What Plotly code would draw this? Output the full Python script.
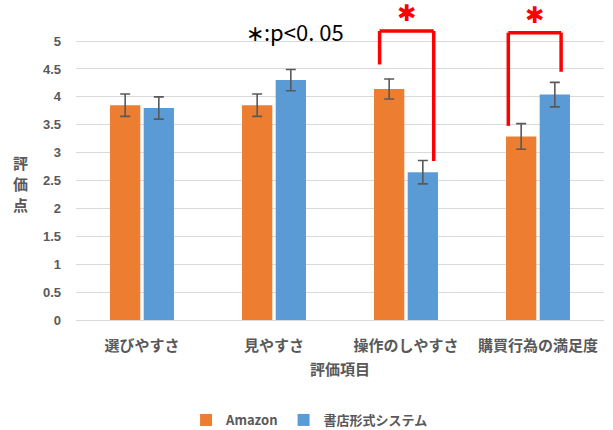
import plotly.graph_objects as go

# Evaluation items and mean scores with standard errors
categories = ["選びやすさ", "見やすさ", "操作のしやすさ", "購買行為の満足度"]
amazon_scores = [3.85, 3.85, 4.14, 3.29]
amazon_err = [0.20, 0.20, 0.18, 0.23]
shop_scores = [3.80, 4.30, 2.65, 4.04]
shop_err = [0.20, 0.19, 0.21, 0.22]
series_names = ["Amazon", "書店形式システム"]
y_ticks = [0, 0.5, 1, 1.5, 2, 2.5, 3, 3.5, 4, 4.5, 5]
y_title_chars = ["評", "価", "点"]

ORANGE = "#ED7D31"
BLUE = "#5B9BD5"
GREY = "#595959"
RED = "#FF0000"

Y_MAX = 5.7          # headroom above the top gridline for the brackets
PX_PER_UNIT = 55.8   # vertical scale of the value axis
PLOT_H = Y_MAX * PX_PER_UNIT
BOTTOM = 110
TOP = 430 - BOTTOM - PLOT_H

err_style = dict(type="data", visible=True, color=GREY, thickness=1.6, width=5)

fig = go.Figure()
fig.add_trace(go.Bar(
    x=categories, y=amazon_scores, name=series_names[0],
    marker=dict(color=ORANGE, line=dict(width=0)),
    error_y=dict(array=amazon_err, **err_style),
))
fig.add_trace(go.Bar(
    x=categories, y=shop_scores, name=series_names[1],
    marker=dict(color=BLUE, line=dict(width=0)),
    error_y=dict(array=shop_err, **err_style),
))

# Significance brackets: (category index, left offset, right offset,
# bracket height, left leg end, right leg end)
brackets = [
    (2, -0.20, 0.21, 5.18, 4.58, 2.85),
    (3, -0.225, 0.175, 5.15, 3.48, 4.45),
]
shapes = []
annotations = []
for idx, lo, ro, top, lend, rend in brackets:
    xl, xr = idx + lo, idx + ro
    line = dict(color=RED, width=3.5)
    shapes.append(dict(type="line", xref="x", yref="y", x0=xl, x1=xl, y0=lend, y1=top, line=line))
    shapes.append(dict(type="line", xref="x", yref="y", x0=xl, x1=xr, y0=top, y1=top, line=line))
    shapes.append(dict(type="line", xref="x", yref="y", x0=xr, x1=xr, y0=top, y1=rend, line=line))
    annotations.append(dict(
        x=(xl + xr) / 2, y=top, xref="x", yref="y", yanchor="bottom", yshift=3,
        text="✱", showarrow=False,
        font=dict(family="DejaVu Sans", size=23, color=RED),
    ))

# significance note
annotations.append(dict(
    x=1.16, y=5.18, xref="x", yref="y", xanchor="center", yanchor="middle",
    text="∗:p<0. 05", showarrow=False,
    font=dict(family="Noto Sans CJK JP", size=22, color="#000000"),
))

# x-axis title
annotations.append(dict(
    x=0.5, y=0, xref="paper", yref="paper", xanchor="center", yanchor="middle",
    yshift=-48, text="評価項目", showarrow=False,
    font=dict(family="Noto Sans CJK JP", size=15, color=GREY, weight="bold"),
))
# y-axis title, written vertically one character per row
for k, ch in enumerate(y_title_chars):
    annotations.append(dict(
        x=0, y=137 / PLOT_H, xref="paper", yref="paper", xanchor="center", yanchor="middle",
        xshift=-56, yshift=(1 - k) * 21, text=ch, showarrow=False,
        font=dict(family="Noto Sans CJK JP", size=15, color=GREY, weight="bold"),
    ))

fig.update_layout(
    width=613, height=430,
    margin=dict(l=76, r=9, t=TOP, b=BOTTOM, autoexpand=False),
    paper_bgcolor="white", plot_bgcolor="white",
    barmode="group", bargap=0.49, bargroupgap=0.1,
    font=dict(family="Noto Sans CJK JP", color=GREY),
    shapes=shapes,
    annotations=annotations,
    legend=dict(
        orientation="h", xref="container", yref="container",
        x=0.505, xanchor="center", y=10 / 430, yanchor="middle",
        font=dict(family="Noto Sans CJK JP", size=13, color=GREY, weight="bold"),
        traceorder="normal",
    ),
    xaxis=dict(
        showgrid=False, showline=True, linecolor="#D9D9D9", linewidth=1,
        tickfont=dict(family="Noto Sans CJK JP", size=15, color=GREY, weight="bold"),
        ticks="", ticklabelstandoff=12,
    ),
    yaxis=dict(
        range=[0, Y_MAX], tickvals=y_ticks, ticktext=[f"{v:g}" for v in y_ticks],
        showgrid=True, gridcolor="#D9D9D9", gridwidth=1.3,
        zeroline=True, zerolinecolor="#D9D9D9", zerolinewidth=1.3,
        tickfont=dict(family="Liberation Sans", size=13, color=GREY, weight="bold"),
        ticks="", ticklabelstandoff=14,
    ),
)

fig.write_html("out.html")
